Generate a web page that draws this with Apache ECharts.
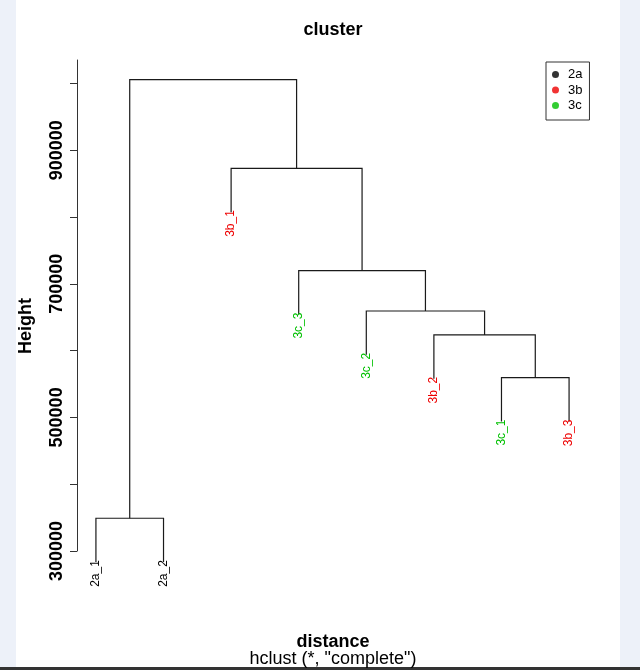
<!DOCTYPE html>
<html><head><meta charset="utf-8">
<script src="https://cdn.jsdelivr.net/npm/echarts@6/dist/echarts.min.js"></script>
<style>html,body{margin:0;padding:0;background:#fff}#c{width:640px;height:670px}</style>
</head><body><div id="c"></div>
<script>
// ---- data ----
const leafLabels = ['2a_1','2a_2','3b_1','3c_3','3c_2','3b_2','3c_1','3b_3'];
const leafGroups = ['2a','2a','3b','3c','3c','3b','3c','3b'];
const groupNames = ['2a','3b','3c'];
// R-style merge matrix: negative = leaf (1-based, plot order), positive = earlier merge
const mergeA = [-1, -7, -6, -5, -4, -3, 1];
const mergeB = [-2, -8,  2,  3,  4,  5, 6];
const mergeHeight = [349000, 559400, 623400, 659300, 719600, 872900, 1005500];
const yTickValues = [300000, 400000, 500000, 600000, 700000, 800000, 900000, 1000000];
const yLabelValues = [300000, 500000, 700000, 900000];

// ---- style ----
const groupColors = {'2a':'#000000','3b':'#EE0000','3c':'#00C000'};
const FONT = '"Liberation Sans", Arial, Helvetica, sans-serif';
const HANG = 0.1 * (Math.max(...mergeHeight) - Math.min(...mergeHeight));

// ---- build tree segments ----
const mergeX = [];
const nodeX = id => id < 0 ? -id : mergeX[id - 1];
const nodeEnd = (id, h) => id < 0 ? h - HANG : mergeHeight[id - 1];
const segData = [];
const leafBottom = new Array(leafLabels.length);
mergeA.forEach((a, i) => {
  const b = mergeB[i], h = mergeHeight[i];
  const xa = nodeX(a), xb = nodeX(b);
  mergeX[i] = (xa + xb) / 2;
  segData.push([xa, nodeEnd(a, h), xb, nodeEnd(b, h), h]);
  if (a < 0) leafBottom[-a - 1] = h - HANG;
  if (b < 0) leafBottom[-b - 1] = h - HANG;
});
const leafData = leafLabels.map((l, i) => [i + 1, leafBottom[i]]);

const chart = echarts.init(document.getElementById('c'), null, {renderer: 'canvas'});
chart.setOption({
  backgroundColor: '#ffffff',
  animation: false,
  grid: {left: 77, right: 52, top: 60, bottom: 119, containLabel: false},
  xAxis: {type: 'value', min: 0.72, max: 8.28, show: false},
  yAxis: {
    type: 'value', min: 300000, max: 1035000, interval: 100000,
    splitLine: {show: false},
    axisLine: {show: true, lineStyle: {color: '#333', width: 1}},
    axisTick: {show: true, length: 7, lineStyle: {color: '#333'}, customValues: yTickValues},
    axisLabel: {
      rotate: 90, margin: 11, color: '#000',
      fontFamily: FONT, fontSize: 18, fontWeight: 'bold',
      customValues: yLabelValues,
      formatter: v => yLabelValues.includes(v) ? String(v) : ''
    }
  },
  legend: {
    orient: 'vertical', left: 546, top: 62,
    backgroundColor: '#fff', borderColor: '#333', borderWidth: 1, borderRadius: 0,
    padding: [6, 7, 8, 6], itemGap: 2.5, itemWidth: 7, itemHeight: 7,
    icon: 'circle',
    textStyle: {fontFamily: FONT, fontSize: 13, color: '#000', lineHeight: 13, padding: [0, 0, 0, 4]},
    data: groupNames
  },
  graphic: [
    {type: 'rect', left: 0, top: 0, z: -1, shape: {width: 16, height: 670}, style: {fill: '#edf1f9'}},
    {type: 'rect', left: 620, top: 0, z: -1, shape: {width: 20, height: 670}, style: {fill: '#edf1f9'}},
    {type: 'rect', left: 0, top: 667, z: -1, shape: {width: 640, height: 3}, style: {fill: '#333'}},
    {type: 'text', x: 333, y: 30, style: {text: 'cluster', font: 'bold 18px ' + FONT, fill: '#000', align: 'center', verticalAlign: 'middle'}},
    {type: 'text', x: 333, y: 642.5, style: {text: 'distance', font: 'bold 18px ' + FONT, fill: '#000', align: 'center', verticalAlign: 'middle'}},
    {type: 'text', x: 333, y: 659.5, style: {text: 'hclust (*, "complete")', font: '18px ' + FONT, fill: '#000', align: 'center', verticalAlign: 'middle'}},
    {type: 'text', x: 26, y: 326, rotation: Math.PI / 2, style: {text: 'Height', font: 'bold 18px ' + FONT, fill: '#000', align: 'center', verticalAlign: 'middle'}}
  ],
  series: [
    {
      type: 'custom', name: 'tree', clip: false, silent: true,
      encode: {x: [0, 2], y: [1, 3, 4]},
      data: segData,
      renderItem: (params, api) => {
        const p1 = api.coord([api.value(0), api.value(1)]);
        const p2 = api.coord([api.value(0), api.value(4)]);
        const p3 = api.coord([api.value(2), api.value(4)]);
        const p4 = api.coord([api.value(2), api.value(3)]);
        return {type: 'polyline', shape: {points: [p1, p2, p3, p4]},
          style: {stroke: '#1a1a1a', lineWidth: 1.2, fill: null}};
      }
    },
    {
      type: 'custom', name: 'leaves', clip: false, silent: true,
      encode: {x: 0, y: 1},
      data: leafData,
      renderItem: (params, api) => {
        const p = api.coord([api.value(0), api.value(1)]);
        const i = params.dataIndex;
        return {type: 'text', x: p[0], y: p[1] - 2, rotation: Math.PI / 2,
          style: {text: leafLabels[i], fill: groupColors[leafGroups[i]],
            font: '12px ' + FONT, align: 'right', verticalAlign: 'middle'}};
      }
    },
    ...groupNames.map(g => ({type: 'scatter', name: g, data: [], itemStyle: {color: groupColors[g]}}))
  ]
});
</script></body></html>
